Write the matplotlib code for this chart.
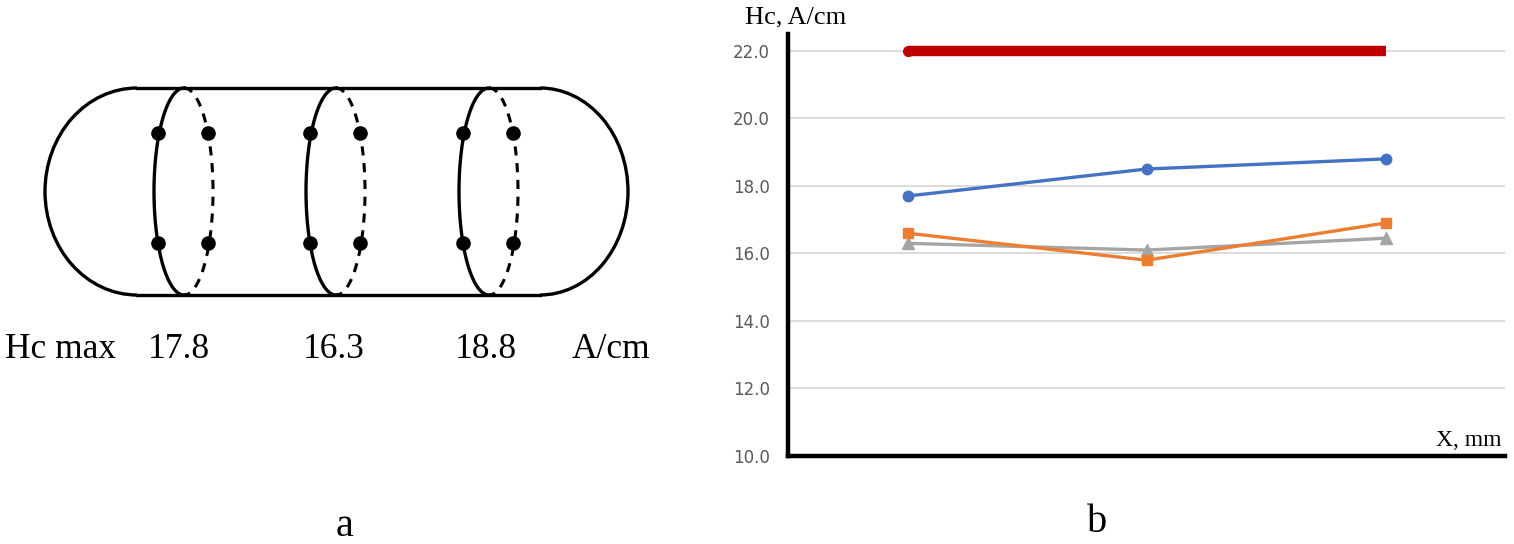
import numpy as np
import matplotlib.pyplot as plt
from matplotlib.patches import Arc

# values for the right-hand chart
positions = ["1", "2", "3"]
hc_series1 = [17.7, 18.5, 18.8]
hc_series2 = [16.6, 15.8, 16.9]
hc_series3 = [16.3, 16.1, 16.45]
hc_limit = [22.0, 22.0, 22.0]
y_ticks = [10.0, 12.0, 14.0, 16.0, 18.0, 20.0, 22.0]

# Hc max labels under the sketch
hc_max = [17.8, 16.3, 18.8]

W, H = 1514, 544
fig = plt.figure(figsize=(W / 100, H / 100), dpi=100)

# ---- left sketch, drawn in pixel coordinates ----
ax_a = fig.add_axes([0, 0, 1, 1])
ax_a.set_xlim(0, W)
ax_a.set_ylim(H, 0)
ax_a.axis('off')

top, bot = 88, 295
cy = (top + bot) / 2
lw = 2.4
ax_a.plot([137, 540], [top, top], 'k-', lw=lw)
ax_a.plot([137, 540], [bot, bot], 'k-', lw=lw)
ax_a.add_patch(Arc((137, cy), 184, bot - top, theta1=90, theta2=270, color='k', lw=lw))
ax_a.add_patch(Arc((540, cy), 176, bot - top, theta1=270, theta2=90, color='k', lw=lw))

ring_x = [184, 336, 489]
t = np.linspace(np.pi / 2, 3 * np.pi / 2, 100)
for cx in ring_x:
    ax_a.plot(cx + 30 * np.cos(t), cy - (bot - top) / 2 * np.sin(t), 'k-', lw=lw)
    ax_a.plot(cx - 29 * np.cos(t), cy - (bot - top) / 2 * np.sin(t), 'k--', lw=2.2, dashes=(3, 2.5))
    for dy in (133, 243):
        ax_a.plot([cx - 26, cx + 24], [dy, dy], 'ko', ms=9.5, ls='none')

serif = 'Liberation Serif'
ax_a.text(5, 350, "Hc max", fontsize=25.5, family=serif, va='center', ha='left')
for cx, v in zip([179, 334, 486], hc_max):
    ax_a.text(cx, 350, "{:.1f}".format(v), fontsize=25.5, family=serif, va='center', ha='center')
ax_a.text(611, 350, "A/cm", fontsize=25.5, family=serif, va='center', ha='center')
ax_a.text(345, 526, "a", fontsize=29, family=serif, va='center', ha='center')
ax_a.text(1097, 523, "b", fontsize=29, family=serif, va='center', ha='center')

# ---- right chart ----
left, right = 788, 1505
y0_px, y1_px = 456, 34
ax = fig.add_axes([left / W, (H - y0_px) / H, (right - left) / W, (y0_px - y1_px) / H])
x = np.arange(len(positions))
ax.set_xlim(-0.5, 2.5)
ax.set_ylim(10, 22.5)

for yv in y_ticks[1:]:
    ax.axhline(yv, color='#d9d9d9', lw=1.3, zorder=0)

ax.plot(x, hc_limit, color='#c00000', lw=7.5, solid_capstyle='butt')
ax.plot(x[:1], hc_limit[:1], 'o', color='#c00000', ms=7)
ax.plot(x, hc_series3, color='#a5a5a5', lw=2.4, marker='^', ms=8)
ax.plot(x, hc_series2, color='#ed7d31', lw=2.4, marker='s', ms=7)
ax.plot(x, hc_series1, color='#4472c4', lw=2.4, marker='o', ms=7.5)

ax.set_yticks(y_ticks)
ax.set_yticklabels(["{:.1f}".format(v) for v in y_ticks], fontsize=12, color='#595959', family='Liberation Sans Narrow')
ax.tick_params(axis='y', length=0, pad=13)
ax.set_xticks([])
for s in ('top', 'right'):
    ax.spines[s].set_visible(False)
ax.spines['left'].set_linewidth(3.2)
ax.spines['bottom'].set_linewidth(3.2)

fig.text(745 / W, 1 - 17 / H, "Hc, A/cm", fontsize=19, family=serif, va='center', ha='left')
fig.text(1502 / W, 1 - 440 / H, "X, mm", fontsize=17, family=serif, va='center', ha='right')

fig.savefig("out.png", dpi=100)
